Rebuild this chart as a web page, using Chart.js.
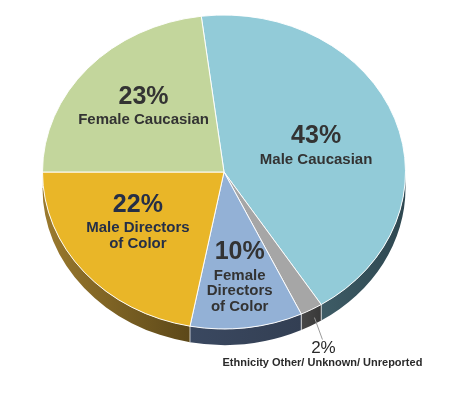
<!DOCTYPE html>
<html>
<head>
<meta charset="utf-8">
<script src="https://cdn.jsdelivr.net/npm/chart.js@4/dist/chart.umd.min.js"></script>
<style>
  body { margin: 0; background: #fff; }
  #wrap { width: 450px; height: 394px; }
</style>
</head>
<body>
<div id="wrap"><canvas id="pieChart" width="450" height="394"></canvas></div>
<script>
// Chart data
const categories = ['Male Caucasian', 'Ethnicity Other/ Unknown/ Unreported', 'Female Directors of Color', 'Male Directors of Color', 'Female Caucasian'];
const values = [43, 2, 10, 22, 23];
const topColors = ['#92CBD8', '#A6A6A6', '#93B1D6', '#E9B628', '#C3D69C'];
const sideLeft = ['#3E5C66', '#474747', '#3A4860', '#9B7A2E', '#7A8A5A'];
const sideRight = ['#2E4750', '#383838', '#333F53', '#5C4819', '#6A7A4A'];
const textColors = ['#333333', '#333333', '#333333', '#252F47', '#333333'];
const labelLines = [['Male Caucasian'], ['Ethnicity Other/ Unknown/ Unreported'], ['Female', 'Directors', 'of Color'], ['Male Directors', 'of Color'], ['Female Caucasian']];
// label placement inside each slice: fraction of radius, and a small turn in degrees
const labelRadius = [0.53, null, 0.69, 0.58, 0.60];
const labelTurn = [3, 0, 0, 4.5, 1];

// 3D look
const TILT = 0.865;
const DEPTH = 16;
const TARGET_CY = 172;
const FONT = "'Liberation Sans', Arial, sans-serif";

function pieGeom(chart) {
  const arc = chart.getDatasetMeta(0).data[0];
  const r = arc.outerRadius;
  return { cx: arc.x, cy: arc.y, rx: r, ry: r * TILT };
}

const pie3d = {
  id: 'pie3d',
  beforeDatasetsDraw(chart) {
    const ctx = chart.ctx;
    const meta = chart.getDatasetMeta(0);
    const g = pieGeom(chart);

    // side walls, only the front half is visible
    meta.data.forEach((arc, i) => {
      const a1 = Math.max(arc.startAngle, 0);
      const a2 = Math.min(arc.endAngle, Math.PI);
      if (a2 <= a1) return;
      const x1 = g.cx + g.rx * Math.cos(a1);
      const x2 = g.cx + g.rx * Math.cos(a2);
      const grad = ctx.createLinearGradient(Math.min(x1, x2), 0, Math.max(x1, x2), 0);
      grad.addColorStop(0, sideLeft[i]);
      grad.addColorStop(1, sideRight[i]);
      ctx.beginPath();
      ctx.ellipse(g.cx, TARGET_CY, g.rx, g.ry, 0, a1, a2);
      ctx.ellipse(g.cx, TARGET_CY + DEPTH, g.rx, g.ry, 0, a2, a1, true);
      ctx.closePath();
      ctx.fillStyle = grad;
      ctx.fill();
    });

    // seams between the walls
    ctx.strokeStyle = 'rgba(255,255,255,0.7)';
    ctx.lineWidth = 1;
    meta.data.forEach(arc => {
      const a = arc.endAngle;
      if (a <= 0 || a >= Math.PI) return;
      const x = g.cx + g.rx * Math.cos(a);
      const y = TARGET_CY + g.ry * Math.sin(a);
      ctx.beginPath();
      ctx.moveTo(x, y);
      ctx.lineTo(x, y + DEPTH);
      ctx.stroke();
    });

    // squash the top face into an ellipse
    ctx.save();
    ctx.translate(0, TARGET_CY);
    ctx.scale(1, TILT);
    ctx.translate(0, -g.cy);
  },
  afterDatasetsDraw(chart) {
    const ctx = chart.ctx;
    ctx.restore();
    const meta = chart.getDatasetMeta(0);
    const g = pieGeom(chart);
    ctx.textAlign = 'center';
    ctx.textBaseline = 'middle';

    meta.data.forEach((arc, i) => {
      const mid = (arc.startAngle + arc.endAngle) / 2 + labelTurn[i] * Math.PI / 180;
      const pct = values[i] + '%';
      if (labelRadius[i] === null) {
        // small slice: label below with a leader line
        const px = g.cx + g.rx * Math.cos(mid);
        const py = TARGET_CY + g.ry * Math.sin(mid) + DEPTH;
        ctx.strokeStyle = '#9A9A9A';
        ctx.lineWidth = 1;
        ctx.beginPath();
        ctx.moveTo(px + 3, py - 8);
        ctx.lineTo(px + 11, py + 14);
        ctx.stroke();
        ctx.fillStyle = '#2A2A2A';
        ctx.font = '17px ' + FONT;
        ctx.fillText(pct, px + 12, py + 23);
        ctx.font = 'bold 11px ' + FONT;
        ctx.fillText(labelLines[i][0], px + 11, py + 37);
        return;
      }
      const x = g.cx + g.rx * labelRadius[i] * Math.cos(mid);
      const y = TARGET_CY + g.ry * labelRadius[i] * Math.sin(mid);
      const lines = labelLines[i];
      const pctGap = 23, lineGap = 15.5;
      const total = pctGap + lineGap * (lines.length - 1);
      const top = y - total / 2;
      ctx.fillStyle = textColors[i];
      ctx.font = 'bold 25px ' + FONT;
      ctx.fillText(pct, x, top);
      ctx.font = 'bold 15px ' + FONT;
      lines.forEach((t, k) => {
        ctx.fillText(t, x, top + pctGap + k * lineGap);
      });
    });
  }
};

new Chart(document.getElementById('pieChart'), {
  type: 'pie',
  data: {
    labels: categories,
    datasets: [{
      data: values,
      backgroundColor: topColors,
      borderColor: '#FFFFFF',
      borderWidth: 1,
      clip: false
    }]
  },
  options: {
    responsive: false,
    animation: false,
    rotation: -7.2,
    layout: { padding: { left: 42, right: 44, top: 0, bottom: 30 } },
    plugins: {
      legend: { display: false },
      tooltip: { enabled: false }
    }
  },
  plugins: [pie3d]
});
</script>
</body>
</html>
